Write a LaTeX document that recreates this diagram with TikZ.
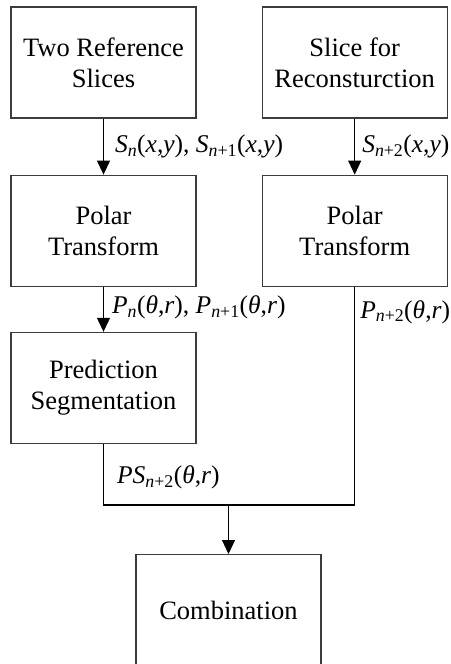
\documentclass[tikz,border=0pt]{standalone}
\usepackage{fontspec}
\setmainfont{Liberation Serif}
\usepackage{tikz}
\usetikzlibrary{arrows.meta, positioning, calc}
\definecolor{EdgeGray}{RGB}{60,60,60}
\newcommand{\vi}[1]{\textit{#1}}
\tikzset{
  flowbox/.style={rectangle,draw=EdgeGray,line width=1.2pt,align=center,
    minimum width=185pt,minimum height=111pt,inner sep=2pt},
  link/.style={line width=1.1pt,color=black},
  arrow/.style={link,-{Triangle[width=13pt,length=14pt]}},
  sig/.style={font=\fontsize{25.5}{30}\selectfont,inner sep=1pt}
}
\begin{document}
\begin{tikzpicture}[font=\fontsize{26.5}{31}\selectfont]
  \clip (0,0) rectangle (450pt,-664pt);
  \node[flowbox] (refs) at (103.5pt,-62.5pt) {Two Reference\\Slices};
  \node[flowbox,right=65pt of refs] (recon) {Slice for\\Reconsturction};
  \node[flowbox,below=56pt of refs] (pt1) {Polar\\Transform};
  \node[flowbox,below=56pt of recon] (pt2) {Polar\\Transform};
  \node[flowbox,below=45pt of pt1] (pred) {Prediction\\Segmentation};
  \coordinate (j) at (228.5pt,-505pt);
  \node[flowbox,below=49pt of j,minimum height=112pt] (comb) {Combination};
  % signals between the stages
  \draw[arrow] (refs) -- node[sig,right=10pt]
    {\vi{S}\textsubscript{\vi{n}}(\vi{x},\vi{y}), \vi{S}\textsubscript{\vi{n}+1}(\vi{x},\vi{y})} (pt1);
  \draw[arrow] (recon) -- node[sig,right=6pt]
    {\vi{S}\textsubscript{\vi{n}+2}(\vi{x},\vi{y})} (pt2);
  \draw[arrow] (pt1) -- node[sig,right=7pt,yshift=2pt]
    {\vi{P}\textsubscript{\vi{n}}(\vi{θ},\vi{r}), \vi{P}\textsubscript{\vi{n}+1}(\vi{θ},\vi{r})} (pred);
  \draw[link] (pt2) -- node[sig,right=4pt,pos=0.115]
    {\vi{P}\textsubscript{\vi{n}+2}(\vi{θ},\vi{r})} (pt2.south |- j) -- (j);
  \draw[link] (pred) -- node[sig,right=12pt,yshift=-3pt]
    {\vi{PS}\textsubscript{\vi{n}+2}(\vi{θ},\vi{r})} (pred.south |- j) -- (j);
  \draw[arrow] (j) -- (comb);
\end{tikzpicture}
\end{document}
